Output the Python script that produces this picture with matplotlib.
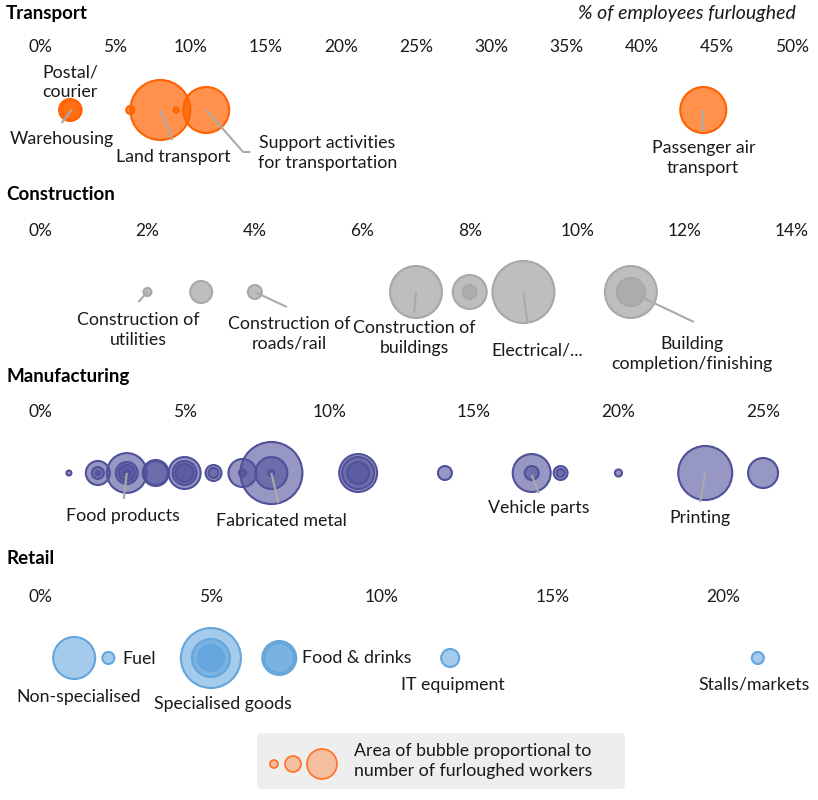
import matplotlib.pyplot as plt
import numpy as np
from matplotlib.patches import FancyBboxPatch

plt.rcParams['font.family'] = ['Lato', 'DejaVu Sans']

# % of employees furloughed and furloughed workers (thousands) per sub-sector
transport_pct = [2.0, 2.1, 6.0, 8.0, 9.05, 11.05, 44.1]
transport_workers = [13.4, 11.1, 1.8, 100, 0.7, 58.8, 58.8]
transport_ticks = [0, 5, 10, 15, 20, 25, 30, 35, 40, 45, 50]

construction_pct = [2.0, 3.0, 4.0, 7.0, 8.0, 8.0, 9.0, 11.0, 11.0]
construction_workers = [1.8, 13.4, 5.4, 75, 32, 5.4, 107, 75, 21.8]
construction_ticks = [0, 2, 4, 6, 8, 10, 12, 14]

manufacturing_pct = [1, 2, 2, 2, 3, 3, 3, 3, 4, 4, 5, 5, 5, 6, 6, 7, 7,
                     8, 8, 8, 11, 11, 11, 14, 17, 17, 18, 18, 20, 23, 25]
manufacturing_workers = [0.7, 16, 4, 0.4, 44, 13.4, 7.1, 1, 18.8, 16, 28.4, 16, 9, 7.1, 2.8, 21.8, 1.4,
                         107, 28.4, 1, 40, 28.4, 13.4, 5.4, 40, 5.4, 5.4, 1.8, 1.4, 81, 25]
manufacturing_ticks = [0, 5, 10, 15, 20, 25]

retail_pct = [1.0, 2.0, 5.0, 5.0, 5.0, 7.0, 7.0, 12.0, 21.0]
retail_workers = [49, 4, 100, 40, 18.8, 32, 25, 9, 4]
retail_ticks = [0, 5, 10, 15, 20]

# labels: (text, bubble index, leader end px, text centre px, ha); px offsets are (right, down)
transport_labels = [
    ("Postal/\ncourier", 0, None, (0, -28), 'center'),
    ("Warehousing", 1, (-10, 13), (-10, 29), 'center'),
    ("Land transport", 3, (12, 30), (13, 47), 'center'),
    ("Support activities\nfor transportation", 5, (44, 42), (121, 43), 'center'),
    ("Passenger air\ntransport", 6, (0, 21), (0, 48), 'center'),
]
construction_labels = [
    ("Construction of\nutilities", 0, (-9, 10), (-9, 38), 'center'),
    ("Construction of\nroads/rail", 2, (32, 15), (34, 42), 'center'),
    ("Construction of\nbuildings", 3, (-2, 21), (-2, 46), 'center'),
    ("Electrical/...", 6, (4, 31), (14, 58), 'center'),
    ("Building\ncompletion/finishing", 7, (63, 30), (61, 62), 'center'),
]
manufacturing_labels = [
    ("Food products", 4, (-3, 26), (-4, 43), 'center'),
    ("Fabricated metal", 17, (7, 30), (10, 48), 'center'),
    ("Vehicle parts", 24, (7, 20), (7, 35), 'center'),
    ("Printing", 29, (-5, 29), (-5, 45), 'center'),
]
retail_labels = [
    ("Non-specialised", 0, None, (4, 39), 'center'),
    ("Fuel", 1, None, (14, 1), 'left'),
    ("Specialised goods", 2, None, (12, 46), 'center'),
    ("Food & drinks", 5, None, (23, 0), 'left'),
    ("IT equipment", 7, None, (3, 27), 'center'),
    ("Stalls/markets", 8, None, (-4, 26), 'center'),
]

W, H = 818, 800
fig = plt.figure(figsize=(W / 100, H / 100), dpi=100)
FS = 12.8
LS = 1.3
line_col = '#aaaaaa'
text_col = '#1a1a1a'


def px_size(workers):
    # radius in px = 3 * sqrt(thousands), converted to scatter area in pt^2
    r = 3 * np.sqrt(np.array(workers))
    return (2 * r * 0.72) ** 2


def draw_panel(title, title_y, pct, workers, ticks, xmax, labels, top, centre, bottom, color, alpha, edge):
    ax = fig.add_axes([40 / W, 1 - bottom / H, 752 / W, (bottom - top) / H])
    ax.set_xlim(0, xmax)
    ax.set_ylim(-(bottom - centre), centre - top)
    order = np.argsort(workers)[::-1]
    p = np.array(pct)[order]
    w = np.array(workers)[order]
    ax.scatter(p, np.zeros_like(p), s=px_size(w), facecolors=[(*color, alpha)],
               edgecolors=edge, linewidths=1.5, zorder=2)
    ax.xaxis.tick_top()
    ax.set_xticks(ticks)
    ax.set_xticklabels([f"{t}%" for t in ticks], fontsize=12.5, color=text_col)
    ax.tick_params(axis='x', length=0, pad=2)
    ax.set_yticks([])
    for s in ax.spines.values():
        s.set_visible(False)
    ppp = 752 / xmax
    for text, i, end, tpos, ha in labels:
        x0 = pct[i]
        if end is not None:
            if text.startswith("Support"):
                xs = [x0, x0 + 37 / ppp, x0 + end[0] / ppp]
                ys = [0, -end[1], -end[1]]
            elif text.startswith("Vehicle"):
                xs = [x0, x0 + end[0] / ppp]
                ys = [-2, -end[1]]
            else:
                xs = [x0, x0 + end[0] / ppp]
                ys = [0, -end[1]]
            ax.plot(xs, ys, color=line_col, lw=1.5, zorder=3, solid_capstyle='butt')
        ax.text(x0 + tpos[0] / ppp, -tpos[1], text, ha=ha, va='center',
                fontsize=FS, linespacing=LS, color=text_col, zorder=4)
    fig.text(6 / W, 1 - title_y / H, title, fontsize=13.5, fontweight='bold', va='center')
    return ax


orange = (1.0, 0.384, 0.0)
draw_panel("Transport", 14, transport_pct, transport_workers, transport_ticks, 50,
           transport_labels, 58, 110, 180, orange, 0.7, '#ff6200')
fig.text(796 / W, 1 - 14 / H, "% of employees furloughed", fontsize=14, style='italic',
         ha='right', va='center', color=text_col)

gray = (0.66, 0.66, 0.66)
draw_panel("Construction", 195, construction_pct, construction_workers, construction_ticks, 14,
           construction_labels, 242, 292, 370, gray, 0.75, '#a8a8a8')

purple = (0.32, 0.32, 0.61)
draw_panel("Manufacturing", 377, manufacturing_pct, manufacturing_workers, manufacturing_ticks, 26,
           manufacturing_labels, 423, 473, 540, purple, 0.6, '#50509b')

blue = (0.35, 0.63, 0.86)
draw_panel("Retail", 559, retail_pct, retail_workers, retail_ticks, 22,
           retail_labels, 608, 658, 720, blue, 0.55, '#64a5dc')

# size legend
lax = fig.add_axes([255 / W, 1 - 791 / H, 372 / W, 60 / H])
lax.set_xlim(0, 372)
lax.set_ylim(0, 60)
lax.axis('off')
lax.add_patch(FancyBboxPatch((2, 2), 368, 56, boxstyle="round,pad=0,rounding_size=5",
                             facecolor='#eeeeee', edgecolor='none'))
leg_x = [19, 38, 67]
leg_r = [4, 8, 15]
lax.scatter(leg_x, [27, 27, 27], s=[(2 * r * 0.72) ** 2 for r in leg_r],
            facecolors='#f5bea0', edgecolors='#ff7020', linewidths=1.2, zorder=3)
lax.text(99, 30, "Area of bubble proportional to\nnumber of furloughed workers",
         ha='left', va='center', fontsize=FS, linespacing=LS, color=text_col)

fig.savefig('out.png', dpi=100, facecolor='white')
